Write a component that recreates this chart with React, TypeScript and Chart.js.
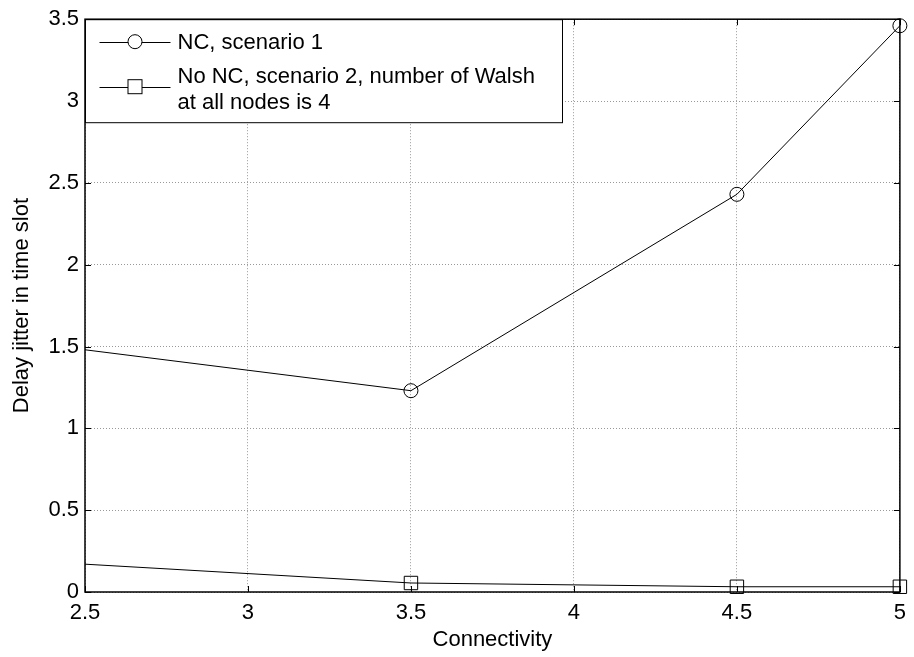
import React, { useEffect, useRef } from "react";
import { Chart, registerables } from "chart.js";

Chart.register(...registerables);

// Connectivity values and delay jitter (time slots) for both schemes
const connectivity = [2.5, 3.5, 4.5, 5];
const jitterNC = [1.48, 1.23, 2.43, 3.46];
const jitterNoNC = [0.17, 0.055, 0.032, 0.032];

const seriesLabels = ["NC, scenario 1", "No NC, scenario 2, number of Walsh", "at all nodes is 4"];
const xTitle = "Connectivity";
const yTitle = "Delay jitter in time slot";

const FONT = "Liberation Sans, Arial, sans-serif";
const FS = 22;

// Boxed axes with inward ticks on all four sides, plus an in-plot legend
const framePlugin = {
  id: "frame",
  afterDatasetsDraw(chart: any) {
    const { ctx, chartArea: a, scales } = chart;
    const tl = 6;
    ctx.save();
    ctx.strokeStyle = "#000";
    ctx.lineWidth = 1;
    ctx.beginPath();
    scales.x.ticks.forEach((t: any) => {
      const px = Math.round(scales.x.getPixelForValue(t.value)) + 0.5;
      ctx.moveTo(px, a.bottom);
      ctx.lineTo(px, a.bottom - tl);
      ctx.moveTo(px, a.top);
      ctx.lineTo(px, a.top + tl);
    });
    scales.y.ticks.forEach((t: any) => {
      const py = Math.round(scales.y.getPixelForValue(t.value)) + 0.5;
      ctx.moveTo(a.left, py);
      ctx.lineTo(a.left + tl, py);
      ctx.moveTo(a.right, py);
      ctx.lineTo(a.right - tl, py);
    });
    ctx.stroke();

    // legend box
    const lx = a.left + 0.5;
    const ly = a.top + 0.5;
    const lw = 477;
    const lh = 103;
    ctx.fillStyle = "#fff";
    ctx.fillRect(lx, ly, lw, lh);
    ctx.strokeRect(lx, ly, lw, lh);

    const sx0 = lx + 14;
    const sx1 = lx + 85;
    const mx = (sx0 + sx1) / 2;
    const rows = [ly + 22, ly + 67];
    ctx.beginPath();
    rows.forEach((ry) => {
      ctx.moveTo(sx0, Math.round(ry) + 0.5);
      ctx.lineTo(sx1, Math.round(ry) + 0.5);
    });
    ctx.stroke();
    ctx.fillStyle = "#fff";
    ctx.beginPath();
    ctx.arc(mx, rows[0], 7, 0, Math.PI * 2);
    ctx.fill();
    ctx.stroke();
    ctx.fillRect(mx - 7, rows[1] - 7, 14, 14);
    ctx.strokeRect(mx - 7, rows[1] - 7, 14, 14);

    ctx.fillStyle = "#000";
    ctx.font = `${FS}px ${FONT}`;
    ctx.textBaseline = "middle";
    ctx.textAlign = "left";
    const tx = lx + 92;
    ctx.fillText(seriesLabels[0], tx, rows[0] + 1);
    ctx.fillText(seriesLabels[1], tx, rows[1] - 10);
    ctx.fillText(seriesLabels[2], tx, rows[1] + 16);

    // axes frame
    ctx.lineWidth = 1.5;
    ctx.strokeRect(a.left, a.top, a.right - a.left, a.bottom - a.top);
    ctx.restore();
  },
};

export default function App() {
  const ref = useRef<HTMLCanvasElement>(null);

  useEffect(() => {
    const mk = (ys: number[]) => connectivity.map((x, i) => ({ x, y: ys[i] }));
    const radius = (r: number) => (ctx: any) => (ctx.dataIndex === 0 ? 0 : r);
    const fmt = (v: any) => String(Number(v));
    const chart = new Chart(ref.current!, {
      type: "scatter",
      data: {
        datasets: [
          {
            label: seriesLabels[0],
            data: mk(jitterNC),
            showLine: true,
            clip: false,
            borderColor: "#000",
            backgroundColor: "rgba(0,0,0,0)",
            borderWidth: 1,
            pointStyle: "circle",
            pointRadius: radius(7),
            pointBorderWidth: 1,
            pointBorderColor: "#000",
            pointBackgroundColor: "rgba(0,0,0,0)",
          },
          {
            label: seriesLabels[1],
            data: mk(jitterNoNC),
            showLine: true,
            clip: false,
            borderColor: "#000",
            backgroundColor: "rgba(0,0,0,0)",
            borderWidth: 1,
            pointStyle: "rect",
            pointRadius: radius(9.5),
            pointBorderWidth: 1,
            pointBorderColor: "#000",
            pointBackgroundColor: "rgba(0,0,0,0)",
          },
        ],
      },
      options: {
        animation: false,
        responsive: false,
        devicePixelRatio: 1,
        layout: { padding: { top: 16, right: 9, left: 0, bottom: 0 } },
        plugins: { legend: { display: false }, tooltip: { enabled: false } },
        scales: {
          x: {
            type: "linear",
            min: 2.5,
            max: 5,
            ticks: { stepSize: 0.5, color: "#000", font: { size: FS, family: FONT }, padding: 8, maxRotation: 0, callback: fmt },
            grid: { color: "#999", drawTicks: false } as any,
            border: { display: false, dash: [1, 2] } as any,
            title: { display: true, text: xTitle, color: "#000", font: { size: FS, family: FONT }, padding: { top: 4, bottom: 4 } },
            afterFit: (s: any) => {
              s.height = 65;
            },
          },
          y: {
            min: 0,
            max: 3.5,
            ticks: { stepSize: 0.5, color: "#000", font: { size: FS, family: FONT }, padding: 6, callback: fmt },
            grid: { color: "#999", drawTicks: false } as any,
            border: { display: false, dash: [1, 2] } as any,
            title: { display: true, text: yTitle, color: "#000", font: { size: FS, family: FONT }, padding: { top: 9, bottom: 4 } },
            afterFit: (s: any) => {
              s.width = 85;
            },
          },
        },
      },
      plugins: [framePlugin],
    });
    return () => chart.destroy();
  }, []);

  return (
    <div style={{ position: "fixed", left: 0, top: 0, width: 914, height: 657, background: "#fff" }}>
      <canvas ref={ref} width={914} height={657} style={{ width: 914, height: 657 }} />
    </div>
  );
}
